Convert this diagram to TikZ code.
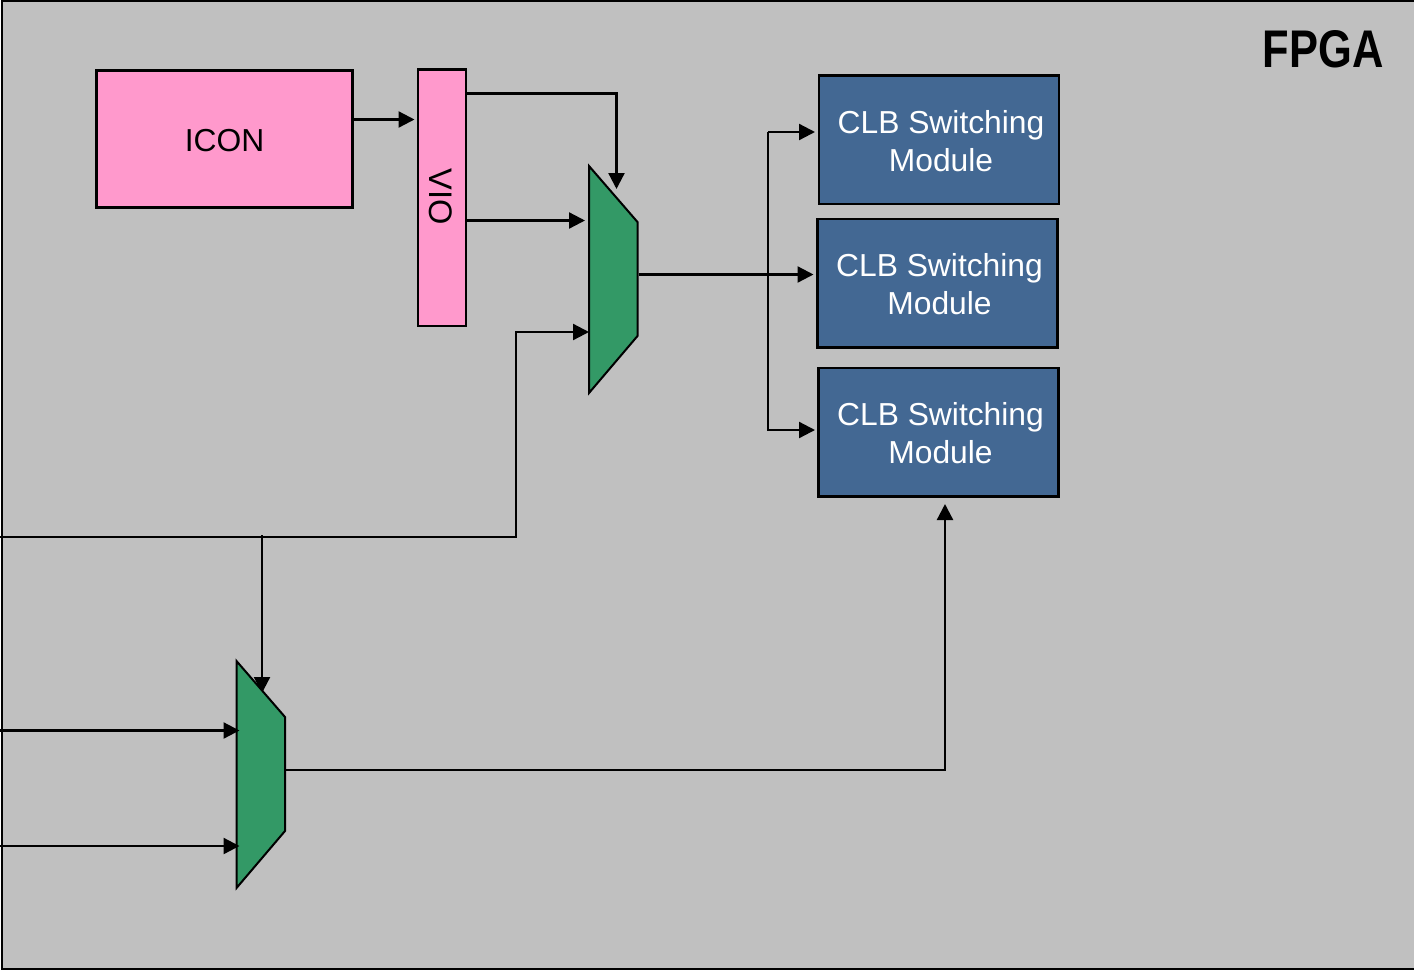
\documentclass[tikz,border=0pt]{standalone}
\usepackage{fontspec}
\usepackage{graphicx}
\setmainfont{Liberation Sans}
\usetikzlibrary{arrows.meta}
\definecolor{fpgagray}{HTML}{C0C0C0}
\definecolor{pinkbox}{HTML}{FF99CC}
\definecolor{muxgreen}{HTML}{339966}
\definecolor{clbblue}{HTML}{436893}
\tikzset{
  x=1pt,y=-1pt,
  boxbase/.style={draw=black,line width=2.6pt,inner sep=0pt,outer sep=0pt,anchor=north west},
  pinkrect/.style={boxbase,fill=pinkbox},
  clbbox/.style={boxbase,fill=clbblue,minimum width=240pt,minimum height=128.5pt},
  boxtext/.style={font=\fontsize{31.8}{38}\selectfont,inner sep=0pt,align=center},
  clbtext/.style={boxtext,text=white},
  muxshape/.style={draw=black,line width=2pt,fill=muxgreen,line join=miter},
  muxbox/.style={inner sep=0pt,outer sep=0pt,minimum width=48.5pt,minimum height=227pt,anchor=north west},
  wire/.style={draw=black,line width=2.3pt,line join=miter},
  tiphead/.style={-{Triangle[length=16pt,width=16pt]}},
}
\begin{document}
\begin{tikzpicture}
\useasboundingbox (0,0) rectangle (1414,970);
\node[draw=black,fill=fpgagray,line width=2pt,inner sep=0pt,outer sep=0pt,anchor=north west,minimum width=1420pt,minimum height=967.5pt] (fpga) at (1.5,1) {};
\node[anchor=center,inner sep=0pt] (title) at (1323,49) {\scalebox{0.82}[1]{\fontsize{53}{60}\selectfont\bfseries FPGA}};

\node[pinkrect,minimum width=256pt,minimum height=137pt] (icon) at (96.5,70.5) {};
\node[boxtext] (iconlabel) at (224.5,141) {ICON};
\node[pinkrect,minimum width=48pt,minimum height=256.5pt] (vio) at (418,69.5) {};
\node[boxtext,font=\fontsize{32.6}{38}\selectfont,rotate=-90] (violabel) at (440.5,196.5) {VIO};

\node[clbbox] (clba) at (819,75.5) {};
\node[clbbox] (clbb) at (817.5,219) {};
\node[clbbox] (clbc) at (818.5,368) {};
\node[clbtext] (clbatext) at (941,141) {CLB Switching\\Module};
\node[clbtext] (clbbtext) at (939.5,284) {CLB Switching\\Module};
\node[clbtext] (clbctext) at (940.5,433) {CLB Switching\\Module};

\coordinate (leftA) at (0,537);
\coordinate (leftB) at (0,730.5);
\coordinate (leftC) at (0,846);
\coordinate (tapA) at (262,535);

\node[muxbox] (muxa) at (589,166) {};
\node[muxbox] (muxb) at (236.5,661) {};

\draw[wire,tiphead] (vio.east |- 0,93.5) -- (616.5,93.5) -- (616.5,189);
\draw[wire,tiphead] (tapA) -- (tapA |- 0,693);

\draw[muxshape] (muxa.north west) -- (637.5,222) -- (637.5,336) -- (589,393) -- cycle;
\draw[muxshape] (muxb.north west) -- (285,717) -- (285,831) -- (236.5,888) -- cycle;

\draw[wire,tiphead] (icon.east |- 0,119.5) -- (414.5,119.5);
\draw[wire,tiphead] (vio.east |- 0,220.5) -- (585,220.5);
\draw[wire,tiphead] (leftA) -- (516,537) -- (516,332) -- (muxa.west |- 0,332);
\draw[wire,tiphead] (639,274.5) -- (813.5,274.5);
\draw[wire,tiphead] (768,132) -- (768,430) -- (815,430);
\draw[wire,tiphead] (768,132) -- (815,132);
\draw[wire,tiphead] (leftB) -- (239.5,730.5);
\draw[wire,tiphead] (leftC) -- (239.5,846);
\draw[wire,tiphead] (285,770) -- (945,770) -- (945,504);
\end{tikzpicture}
\end{document}
